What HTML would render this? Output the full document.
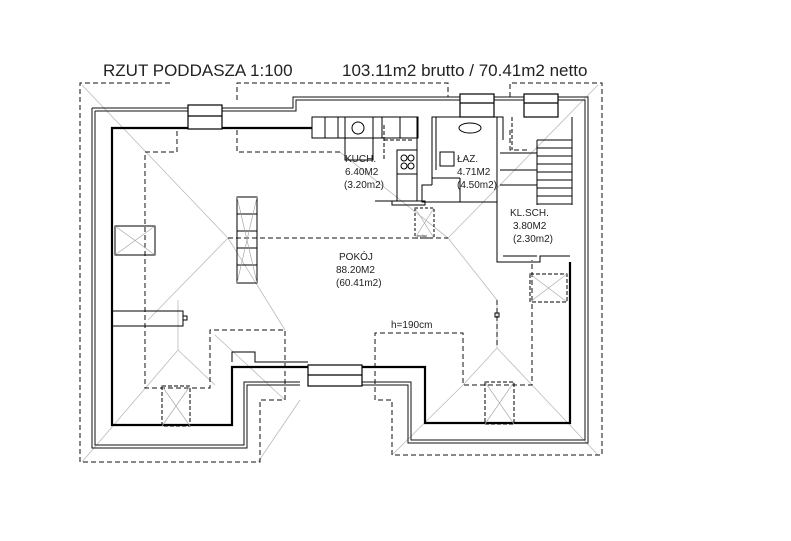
<!DOCTYPE html>
<html><head><meta charset="utf-8"><style>
html,body{margin:0;padding:0;background:#fff;width:791px;height:541px;overflow:hidden}
svg{display:block}
text{font-family:"Liberation Sans",sans-serif;fill:#222}
</style></head><body>
<svg width="791" height="541" viewBox="0 0 791 541" xmlns="http://www.w3.org/2000/svg">
<text x="103" y="76" font-size="17">RZUT PODDASZA 1:100</text>
<text x="342" y="76" font-size="17">103.11m2 brutto / 70.41m2 netto</text>

<!-- hip lines grey -->
<g stroke="#bbb" stroke-width="0.8" fill="none">
<line x1="82" y1="85" x2="228" y2="238"/>
<line x1="228" y1="238" x2="148" y2="320"/>
<line x1="228" y1="238" x2="285" y2="330"/>
<line x1="340" y1="152" x2="448" y2="238"/>
<line x1="448" y1="238" x2="497" y2="300"/>
<line x1="448" y1="238" x2="598" y2="85"/>
<line x1="82" y1="462" x2="178" y2="350"/>
<line x1="178" y1="350" x2="215" y2="385"/>
<line x1="178" y1="350" x2="178" y2="300"/>
<line x1="285" y1="400" x2="215" y2="335"/>
<line x1="258" y1="462" x2="300" y2="400"/>
<line x1="392" y1="455" x2="463" y2="385"/>
<line x1="497" y1="348" x2="463" y2="385"/>
<line x1="497" y1="348" x2="532" y2="385"/>
<line x1="598" y1="455" x2="532" y2="385"/>
<line x1="497" y1="348" x2="497" y2="300"/>
</g>

<!-- dashed roof/knee lines -->
<g stroke="#111" stroke-width="1" fill="none" stroke-dasharray="5,3">
<polyline points="170,83 80,83 80,462 260,462 260,400 285,400 285,330 210,330 210,388 145,388 145,152 177,152 177,130"/>
<polyline points="237,130 237,152 340,152"/>
<polyline points="237,100 237,83 448,83 448,97"/>
<polyline points="510,97 510,83 602,83 602,455 392,455 392,400 375,400 375,333 463,333 463,385 532,385 532,260"/>
<line x1="228" y1="238" x2="448" y2="238"/>
<line x1="497" y1="300" x2="497" y2="345"/>
<line x1="497" y1="248" x2="497" y2="262"/>
<polyline points="510,130 510,150 530,150"/>
</g>

<!-- outer double walls -->
<g stroke="#111" stroke-width="1" fill="none">
<polyline points="92,108 92,448 247,448 247,385 300,385"/>
<polyline points="95,111 95,445 244,445 244,382 300,382"/>
<polyline points="92,108 188,108"/><polyline points="95,111 188,111"/>
<polyline points="222,108 293,108 293,97 460,97"/><polyline points="222,111 296,111 296,100 460,100"/>
<polyline points="494,97 524,97"/><polyline points="494,100 524,100"/>
<polyline points="558,97 588,97 588,443 408,443 408,385 362,385"/>
<polyline points="558,100 585,100 585,440 411,440 411,382 362,382"/>
</g>

<!-- inner thick walls -->
<g stroke="#000" stroke-width="2.2" fill="none">
<polyline points="312,128 112,128 112,425 232,425 232,367 308,367"/>
<polyline points="362,367 425,367 425,423 570,423 570,262"/>
</g>
<g stroke="#000" stroke-width="1" fill="none">
<polyline points="232,362 232,352 255,352 255,362 308,362"/>
<line x1="308" y1="372" x2="362" y2="372"/>
</g>

<!-- windows -->
<g stroke="#000" stroke-width="1.2" fill="#fff">
<rect x="188" y="105" width="34" height="24"/><line x1="188" y1="116" x2="222" y2="116"/>
<rect x="308" y="365" width="54" height="21"/><line x1="308" y1="375" x2="362" y2="375"/>
<rect x="460" y="94" width="34" height="23"/><line x1="460" y1="103" x2="494" y2="103"/>
<rect x="524" y="94" width="34" height="23"/><line x1="524" y1="103" x2="558" y2="103"/>
</g>

<!-- skylights -->
<g stroke="#000" stroke-width="1" fill="none">
<rect x="115" y="226" width="40" height="29"/>
<rect x="162" y="386" width="28" height="40" stroke-dasharray="4,2"/>
<rect x="485" y="382" width="29" height="42" stroke-dasharray="4,2"/>
<rect x="530" y="274" width="37" height="28" stroke-dasharray="4,2"/>
<rect x="415" y="208" width="19" height="30" stroke-dasharray="3,2"/>
</g>
<g stroke="#aaa" stroke-width="0.7">
<line x1="115" y1="226" x2="155" y2="255"/><line x1="155" y1="226" x2="115" y2="255"/>
<line x1="162" y1="386" x2="190" y2="426"/><line x1="190" y1="386" x2="162" y2="426"/>
<line x1="485" y1="382" x2="514" y2="424"/><line x1="514" y1="382" x2="485" y2="424"/>
<line x1="530" y1="274" x2="567" y2="302"/><line x1="567" y1="274" x2="530" y2="302"/>
<line x1="415" y1="208" x2="434" y2="238"/><line x1="434" y1="208" x2="415" y2="238"/>
</g>

<!-- chimney stack -->
<g stroke="#000" stroke-width="1" fill="none">
<rect x="237" y="197" width="20" height="86"/>
<line x1="237" y1="214" x2="257" y2="214"/><line x1="237" y1="231" x2="257" y2="231"/>
<line x1="237" y1="248" x2="257" y2="248"/><line x1="237" y1="265" x2="257" y2="265"/>
</g>
<g stroke="#999" stroke-width="0.6">
<line x1="237" y1="197" x2="257" y2="283"/><line x1="257" y1="197" x2="237" y2="283"/>
</g>

<!-- shelf left -->
<g stroke="#000" stroke-width="1" fill="none">
<rect x="112" y="311" width="71" height="15"/>
<rect x="183" y="316" width="4" height="4"/>
<rect x="495" y="313" width="4" height="4"/>
</g>

<!-- kitchen -->
<g stroke="#000" stroke-width="1" fill="none">
<rect x="312" y="117" width="106" height="21"/>
<line x1="325" y1="117" x2="325" y2="138"/><line x1="338" y1="117" x2="338" y2="138"/>
<rect x="345" y="117" width="28" height="43"/>
<line x1="382" y1="117" x2="382" y2="138"/><line x1="400" y1="117" x2="400" y2="138"/>
<circle cx="358" cy="128" r="6"/>
<rect x="397" y="150" width="20" height="24"/>
<rect x="397" y="174" width="20" height="27"/>
<circle cx="404" cy="158" r="3"/><circle cx="411" cy="158" r="3"/><circle cx="404" cy="166" r="3"/><circle cx="411" cy="166" r="3"/>
<line x1="417" y1="117" x2="417" y2="201"/>
<polyline points="375,201 425,201 425,205 392,205 392,201"/>
<!-- bathroom -->
<polyline points="432,185 432,117 497,117 497,202 422,202 422,185 432,185"/>
<line x1="436" y1="117" x2="436" y2="170"/>
<rect x="440" y="152" width="14" height="14"/>
<ellipse cx="470" cy="128" rx="11" ry="5"/>
<line x1="432" y1="178" x2="460" y2="178"/><line x1="460" y1="178" x2="460" y2="202"/>
<!-- stairs / klatka -->
<polyline points="497,117 503,117 503,140"/>
<polyline points="497,200 497,262 540,262 540,256 570,256"/>
<polyline points="503,256 537,256"/>
<line x1="537" y1="140" x2="572" y2="140"/>
<line x1="537" y1="140" x2="537" y2="205"/>
<line x1="572" y1="117" x2="572" y2="205"/>
<line x1="500" y1="153" x2="537" y2="153"/>
<line x1="500" y1="170" x2="537" y2="170"/>
<line x1="500" y1="185" x2="537" y2="185"/>
<line x1="537" y1="148" x2="572" y2="148"/>
<line x1="537" y1="156" x2="572" y2="156"/>
<line x1="537" y1="164" x2="572" y2="164"/>
<line x1="537" y1="172" x2="572" y2="172"/>
<line x1="537" y1="180" x2="572" y2="180"/>
<line x1="537" y1="188" x2="572" y2="188"/>
<line x1="537" y1="196" x2="572" y2="196"/>
<line x1="537" y1="204" x2="572" y2="204"/>
</g>
<g stroke="#000" stroke-width="1" fill="none" stroke-dasharray="4,2">
<line x1="384" y1="125" x2="384" y2="160"/><line x1="384" y1="140" x2="412" y2="140"/>
<line x1="512" y1="117" x2="512" y2="150"/>
</g>

<!-- labels -->
<g font-size="10">
<text x="345" y="162">KUCH.</text>
<text x="345" y="175">6.40M2</text>
<text x="344" y="188">(3.20m2)</text>
<text x="457" y="162">ŁAZ.</text>
<text x="457" y="175">4.71M2</text>
<text x="457" y="188">(4.50m2)</text>
<text x="510" y="216">KL.SCH.</text>
<text x="513" y="229">3.80M2</text>
<text x="513" y="242">(2.30m2)</text>
<text x="339" y="260">POKÓJ</text>
<text x="336" y="273">88.20M2</text>
<text x="336" y="286">(60.41m2)</text>
<text x="391" y="328">h=190cm</text>
</g>
<text x="417" y="237" font-size="4">wyłaz</text>
</svg>
</body></html>
